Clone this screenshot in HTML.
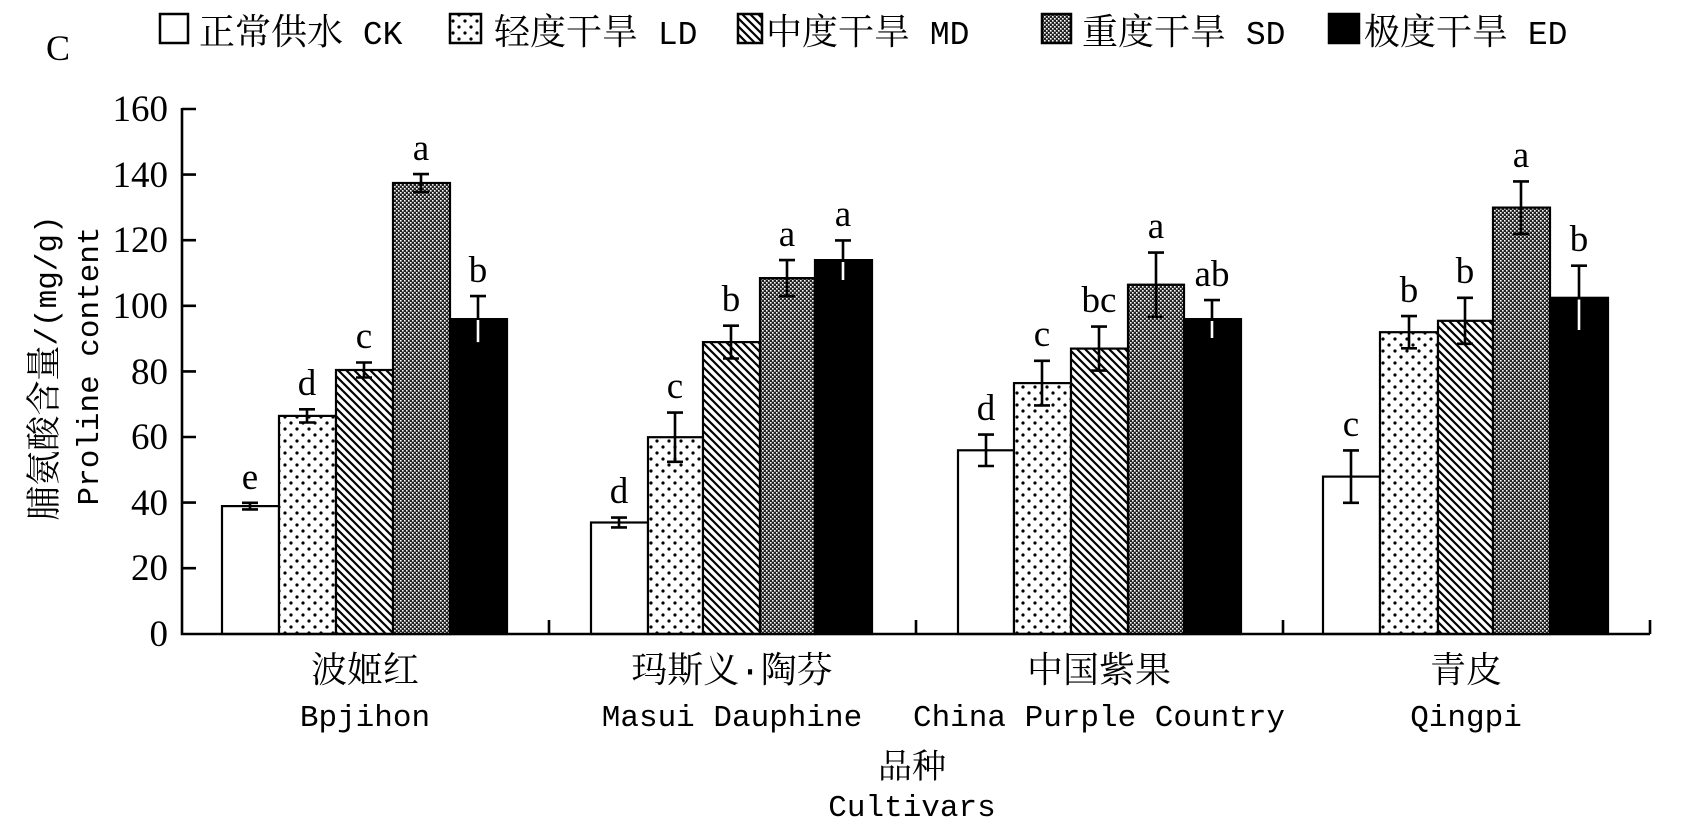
<!DOCTYPE html>
<html><head><meta charset="utf-8"><style>
html,body{margin:0;padding:0;background:#fff;}
svg{display:block;}
.cj{font-family:"Liberation Mono","Noto Serif CJK SC","Noto Sans CJK SC",monospace;}
.num{font-family:"Liberation Serif",serif;font-size:37px;}
.let{font-family:"Liberation Serif",serif;font-size:37px;}
</style></head><body>
<svg width="1682" height="837" viewBox="0 0 1682 837" xmlns="http://www.w3.org/2000/svg">
<defs>
<pattern id="dots" width="12" height="12" patternUnits="userSpaceOnUse">
<rect width="12" height="12" fill="#fff"/><circle cx="3" cy="3" r="1.6" fill="#000"/><circle cx="9" cy="9" r="1.6" fill="#000"/>
</pattern>
<pattern id="hatch" width="8" height="8" patternUnits="userSpaceOnUse">
<rect width="8" height="8" fill="#fff"/><path d="M-2,-2 L10,10 M-6,2 L2,10 M2,-6 L10,2" stroke="#000" stroke-width="2.2"/>
</pattern>
<pattern id="chk" width="4" height="4" patternUnits="userSpaceOnUse">
<rect width="4" height="4" fill="#222"/><rect x="0" y="0" width="1.6" height="1.6" fill="#fff"/><rect x="2" y="2" width="1.6" height="1.6" fill="#fff"/>
</pattern>
</defs>
<text x="46" y="60" font-family="Liberation Serif,serif" font-size="36">C</text>
<!-- legend -->
<g stroke="#000" stroke-width="2.5">
<rect x="160" y="14" width="28" height="29" fill="#fff"/>
<rect x="450" y="14" width="31" height="29" fill="url(#dots)"/>
<rect x="738" y="14" width="24" height="29" fill="url(#hatch)"/>
<rect x="1042" y="14" width="29" height="29" fill="url(#chk)"/>
<rect x="1329" y="14" width="30" height="29" fill="#000"/>
</g>
<g class="cj" font-size="36">
<text x="199" y="44">正常供水<tspan font-size="33"> CK</tspan></text>
<text x="494" y="44">轻度干旱<tspan font-size="33"> LD</tspan></text>
<text x="766" y="44">中度干旱<tspan font-size="33"> MD</tspan></text>
<text x="1082" y="44">重度干旱<tspan font-size="33"> SD</tspan></text>
<text x="1364" y="44">极度干旱<tspan font-size="33"> ED</tspan></text>
</g>
<!-- y axis title -->
<text class="cj" font-size="35" transform="translate(56,368) rotate(-90)" text-anchor="middle">脯氨酸含量<tspan font-size="31">/(mg/g)</tspan></text>
<text class="cj" font-size="31" transform="translate(98,366) rotate(-90)" text-anchor="middle">Proline content</text>
<!-- y ticks -->
<g class="num" text-anchor="end">
<text x="168" y="646">0</text><text x="168" y="580">20</text><text x="168" y="515">40</text><text x="168" y="449">60</text>
<text x="168" y="384">80</text><text x="168" y="318">100</text><text x="168" y="252">120</text><text x="168" y="187">140</text><text x="168" y="121">160</text>
</g>
<!-- bars -->
<g stroke="#000" stroke-width="2.2">
<rect x="222" y="506.1" width="57" height="127.9" fill="#fff"/>
<rect x="279" y="415.9" width="57" height="218.1" fill="url(#dots)"/>
<rect x="336" y="370" width="57" height="264" fill="url(#hatch)"/>
<rect x="393" y="183" width="57" height="451" fill="url(#chk)"/>
<rect x="450" y="319.1" width="57" height="314.9" fill="#000"/>

<rect x="591" y="522.5" width="57" height="111.5" fill="#fff"/>
<rect x="648" y="437.2" width="55" height="196.8" fill="url(#dots)"/>
<rect x="703" y="342.1" width="57" height="291.9" fill="url(#hatch)"/>
<rect x="760" y="278.1" width="55" height="355.9" fill="url(#chk)"/>
<rect x="815" y="260.1" width="57" height="373.9" fill="#000"/>

<rect x="958" y="450.3" width="56" height="183.7" fill="#fff"/>
<rect x="1014" y="383.1" width="57" height="250.9" fill="url(#dots)"/>
<rect x="1071" y="348.6" width="57" height="285.4" fill="url(#hatch)"/>
<rect x="1128" y="284.7" width="56" height="349.3" fill="url(#chk)"/>
<rect x="1184" y="319.1" width="57" height="314.9" fill="#000"/>

<rect x="1323" y="476.6" width="57" height="157.4" fill="#fff"/>
<rect x="1380" y="332.2" width="58" height="301.8" fill="url(#dots)"/>
<rect x="1438" y="320.8" width="55" height="313.2" fill="url(#hatch)"/>
<rect x="1493" y="207.6" width="57" height="426.4" fill="url(#chk)"/>
<rect x="1550" y="297.8" width="58" height="336.2" fill="#000"/>
</g>
<!-- error bars -->
<g stroke="#000" stroke-width="2.6" fill="none">
<path d="M250,502.8V509.4M242,502.8H258M242,509.4H258"/>
<path d="M307,409.3V422.5M299,409.3H315M299,422.5H315"/>
<path d="M364,362.5V377.5M356,362.5H372M356,377.5H372"/>
<path d="M421,174.1V191.9M413,174.1H429M413,191.9H429"/>
<path d="M478,296.1V342.1M470,296.1H486"/>

<path d="M619,517.6V527.4M611,517.6H627M611,527.4H627"/>
<path d="M675,412.6V461.8M667,412.6H683M667,461.8H683"/>
<path d="M731,325.7V358.5M723,325.7H739M723,358.5H739"/>
<path d="M787,260.1V296.1M779,260.1H795M779,296.1H795"/>
<path d="M843,240.4V280M835,240.4H851"/>

<path d="M986,434.6V466M978,434.6H994M978,466H994"/>
<path d="M1042,360.8V405.4M1034,360.8H1050M1034,405.4H1050"/>
<path d="M1099,326.6V370.6M1091,326.6H1107M1091,370.6H1107"/>
<path d="M1156,252.6V316.8M1148,252.6H1164M1148,316.8H1164"/>
<path d="M1212,300.1V338M1204,300.1H1220"/>

<path d="M1351,450.4V502.8M1343,450.4H1359M1343,502.8H1359"/>
<path d="M1409,316.1V348.3M1401,316.1H1417M1401,348.3H1417"/>
<path d="M1465,297.8V343.8M1457,297.8H1473M1457,343.8H1473"/>
<path d="M1521,181.4V233.8M1513,181.4H1529M1513,233.8H1529"/>
<path d="M1579,265.7V330M1571,265.7H1587"/>
</g>
<g stroke="#fff" stroke-width="2.6">
<path d="M478,320V342.1M843,262V280M1212,321V338M1579,299.5V330"/>
</g>
<!-- letters -->
<g class="let" text-anchor="middle">
<text x="250" y="489">e</text><text x="307" y="395">d</text><text x="364" y="348">c</text><text x="421" y="160">a</text><text x="478" y="282">b</text>
<text x="619" y="503">d</text><text x="675" y="398">c</text><text x="731" y="311">b</text><text x="787" y="246">a</text><text x="843" y="226">a</text>
<text x="986" y="420">d</text><text x="1042" y="346">c</text><text x="1099" y="312">bc</text><text x="1156" y="238">a</text><text x="1212" y="286">ab</text>
<text x="1351" y="436">c</text><text x="1409" y="302">b</text><text x="1465" y="283">b</text><text x="1521" y="167">a</text><text x="1579" y="251">b</text>
</g>
<!-- axes -->
<g stroke="#000" stroke-width="2.6" fill="none">
<path d="M182,108V634H1650"/>
<path d="M182,109H196M182,174.6H196M182,240.2H196M182,305.8H196M182,371.4H196M182,437H196M182,502.6H196M182,568.2H196"/>
<path d="M549,634V620M916,634V620M1283,634V620M1650,634V620"/>
</g>
<!-- category labels -->
<g class="cj" text-anchor="middle">
<text x="365" y="682" font-size="36">波姬红</text>
<text x="365" y="726" font-size="31">Bpjihon</text>
<text x="732" y="682" font-size="36">玛斯义·陶芬</text>
<text x="732" y="726" font-size="31">Masui Dauphine</text>
<text x="1099" y="682" font-size="36">中国紫果</text>
<text x="1099" y="726" font-size="31">China Purple Country</text>
<text x="1466" y="682" font-size="36">青皮</text>
<text x="1466" y="726" font-size="31">Qingpi</text>
<text x="912" y="778" font-size="34">品种</text>
<text x="912" y="816" font-size="31">Cultivars</text>
</g>
</svg>
</body></html>
